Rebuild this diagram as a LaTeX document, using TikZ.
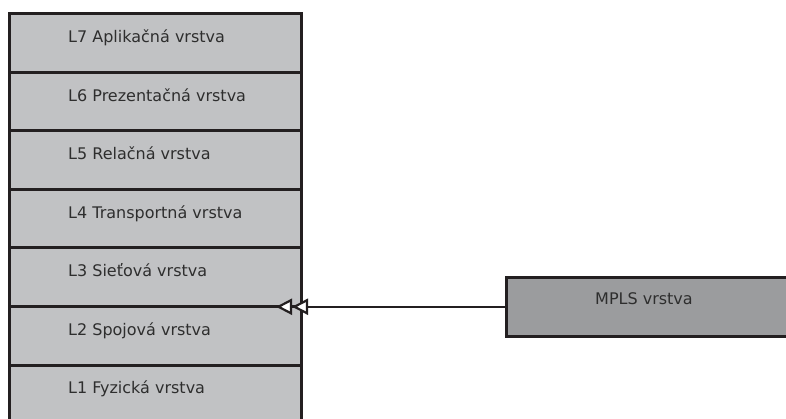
\documentclass[tikz,border=0pt]{standalone}
\usepackage{fontspec}
\setmainfont{DejaVu Sans}
\usetikzlibrary{arrows.meta}
\definecolor{layerfill}{HTML}{C1C2C4}
\definecolor{mplsfill}{HTML}{9B9C9E}
\definecolor{edge}{HTML}{231F20}
\definecolor{txt}{HTML}{2E2E2E}
\tikzset{
  lbl/.style={anchor=west, inner sep=0pt, label distance=-59pt, yshift=4.5pt,
    font=\fontsize{16}{19}\selectfont, text=txt, text height=12pt, text depth=4pt},
  layer/.style={draw=edge, fill=layerfill, line width=3pt, outer sep=0pt, inner sep=0pt,
    minimum width=292pt, minimum height=58.5pt, anchor=north west,
    label={[lbl]west:#1}},
  mplsbox/.style={draw=edge, fill=mplsfill, line width=3pt, outer sep=0pt, inner sep=0pt,
    minimum width=300pt, minimum height=58.5pt, anchor=north west,
    label={[lbl, label distance=-89pt, yshift=2pt]west:#1}},
  link/.style={draw=edge, line width=2.2pt, -{Triangle[open, length=16pt, width=16pt, fill=white]Triangle[open, length=16pt, width=16pt, fill=white]}}
}
\begin{document}
\begin{tikzpicture}[x=1pt, y=-1pt]
\useasboundingbox (0,0) rectangle (786,419);
\node[layer={L7 Aplikačná vrstva}] (l7) at (9,14) {};
\node[layer={L6 Prezentačná vrstva}] (l6) at (9,72.5) {};
\node[layer={L5 Relačná vrstva}] (l5) at (9,131) {};
\node[layer={L4 Transportná vrstva}] (l4) at (9,189.5) {};
\node[layer={L3 Sieťová vrstva}] (l3) at (9,248) {};
\node[layer={L2 Spojová vrstva}] (l2) at (9,306.5) {};
\node[layer={L1 Fyzická vrstva}] (l1) at (9,365) {};
\node[mplsbox={MPLS vrstva}] (mpls) at (506,277.5) {};
\coordinate (tip) at (276,306.75);
\draw[link] (mpls.west) -- (tip);
\end{tikzpicture}
\end{document}
